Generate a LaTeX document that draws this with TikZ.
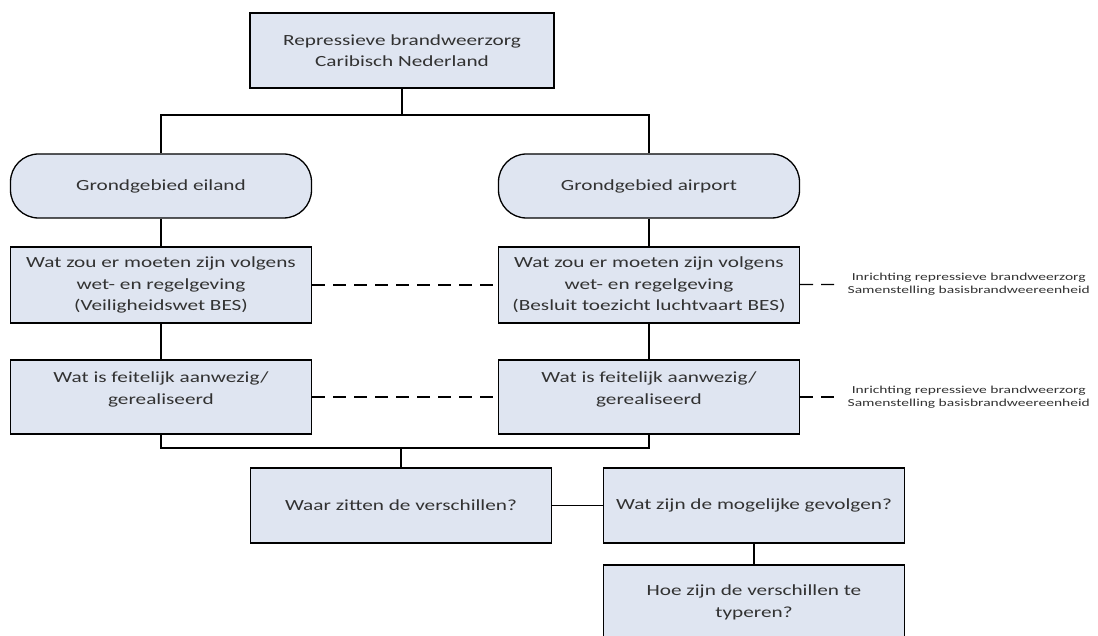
\documentclass[tikz,border=0pt]{standalone}
\usepackage{fontspec}
\setmainfont{Carlito}[FakeStretch=1.37]
\newfontfamily\sidefont{Carlito}[FakeStretch=1.45]
\definecolor{boxfill}{RGB}{223,229,241}
\definecolor{ink}{RGB}{50,50,50}
\begin{document}
\begin{tikzpicture}
[x=1pt, y=-1pt, draw=black, line width=1.3pt, text=ink,
font=\fontsize{15.5}{21.5}\selectfont,
block/.style={rectangle, draw, fill=boxfill, align=center, inner sep=0pt,
    minimum width=301pt, minimum height=76pt},
pill/.style={block, rounded corners=28pt, minimum height=64pt},
side/.style={anchor=west, align=center, inner sep=0pt,
    font=\sidefont\fontsize{10.7}{13}\selectfont},
link/.style={dash pattern=on 13pt off 8pt}]

\useasboundingbox (0,0) rectangle (1098,636);
\clip (0,0) rectangle (1098,636);

\node[block, minimum width=304pt, minimum height=75pt] (top) at (402, 50.5)
    {Repressieve brandweerzorg\\Caribisch Nederland};
\coordinate (j0) at (402, 115);

\foreach \c/\x/\t in {0/161/eiland, 1/649/airport} {
    \node[pill] (g\c) at (\x, 186) {Grondgebied \t};
    \node[block, text depth=18pt, minimum height=74pt] (f\c) at (\x, 397)
        {Wat is feitelijk aanwezig/\\gerealiseerd};
}
\node[block] (w0) at (161, 285)
    {Wat zou er moeten zijn volgens\\wet- en regelgeving\\(Veiligheidswet BES)};
\node[block] (w1) at (649, 285)
    {Wat zou er moeten zijn volgens\\wet- en regelgeving\\(Besluit toezicht luchtvaart BES)};

\draw (top) -- (j0);
\draw (g0) |- (j0) -| (g1);
\foreach \c in {0, 1} {
    \draw (g\c) -- (w\c);
    \draw (w\c) -- (f\c);
}
\draw[link] (w0) -- (w1);
\draw[link] (f0) -- (f1);

\foreach \c/\y in {w/284, f/397} {
    \node[side] (s\c) at (847, \y)
        {Inrichting repressieve brandweerzorg\\Samenstelling basisbrandweereenheid};
    \draw[link, shorten >=9pt] (\c1) -- (s\c);
}

\coordinate (j1) at (401, 448);
\node[block, minimum height=75pt] (diff) at (401, 505.5) {Waar zitten de verschillen?};
\node[block, minimum height=75pt] (gev) at (754, 505.5) {Wat zijn de mogelijke gevolgen?};
\node[block, minimum height=75pt] (typ) at (754, 602.5)
    {Hoe zijn de verschillen te\\typeren?};

\draw (f0) |- (j1) -| (f1);
\draw (j1) -- (diff);
\draw (diff) -- (gev);
\draw (gev) -- (typ);

\end{tikzpicture}
\end{document}
